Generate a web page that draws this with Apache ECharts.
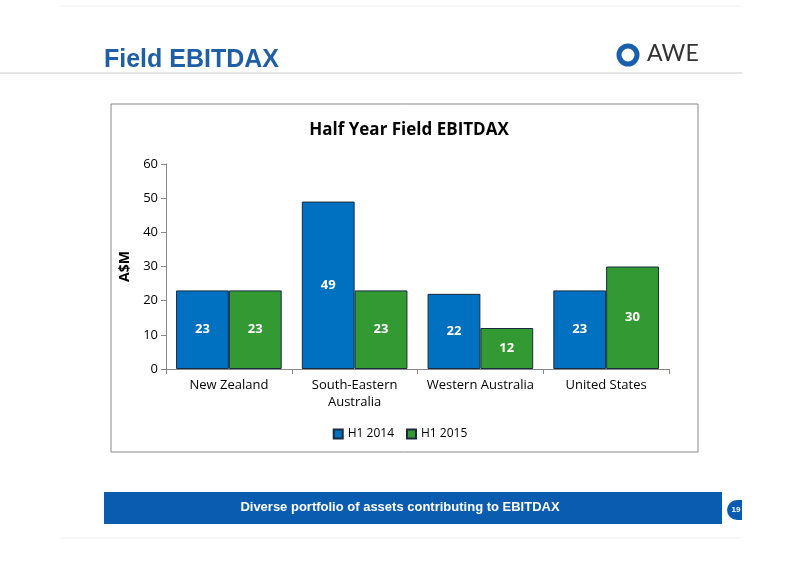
<!DOCTYPE html>
<html><head><meta charset="utf-8">
<script src="https://cdn.jsdelivr.net/npm/echarts@6/dist/echarts.min.js"></script>
<style>html,body{margin:0;padding:0;background:#fff}#c{width:800px;height:565px}</style>
</head><body><div id="c"></div>
<script>
var categories = ['New Zealand', 'South-Eastern\nAustralia', 'Western Australia', 'United States'];
var h12014 = [23, 49, 22, 23];
var h12015 = [23, 23, 12, 30];
var yTicks = [0, 10, 20, 30, 40, 50, 60];
var chart = echarts.init(document.getElementById('c'));
var lbl = {show: true, position: 'inside', color: '#fff', fontSize: 13, fontWeight: 'bold', fontFamily: 'Open Sans'};
chart.setOption({
  animation: false,
  title: {text: 'Half Year Field EBITDAX', left: 404, top: 117, textAlign: 'center',
    textStyle: {fontSize: 17, fontWeight: 'bold', color: '#000', fontFamily: 'Open Sans'}},
  legend: {bottom: 120, left: 'center', itemWidth: 9, itemHeight: 9, itemGap: 12, icon: 'rect',
    textStyle: {fontSize: 12, color: '#000', fontFamily: 'Open Sans'},
    data: ['H1 2014', 'H1 2015']},
  grid: {left: 166, right: 131, top: 164, bottom: 196},
  xAxis: {type: 'category', data: categories,
    axisLine: {lineStyle: {color: '#888'}}, axisTick: {show: true, lineStyle: {color: '#888'}},
    axisLabel: {interval: 0, fontSize: 13, color: '#000', fontFamily: 'Open Sans', lineHeight: 17}},
  yAxis: {type: 'value', min: yTicks[0], max: yTicks[yTicks.length-1], interval: 10,
    name: 'A$M', nameLocation: 'middle', nameGap: 30, nameRotate: 90,
    nameTextStyle: {fontSize: 14, fontWeight: 'bold', color: '#000', fontFamily: 'Open Sans'},
    axisLine: {show: true, lineStyle: {color: '#888'}}, axisTick: {show: true, lineStyle: {color: '#888'}},
    splitLine: {show: false},
    axisLabel: {fontSize: 13, color: '#000', fontFamily: 'Open Sans'}},
  series: [
    {name: 'H1 2014', type: 'bar', data: h12014, barGap: '0%', barCategoryGap: '16%',
     itemStyle: {color: '#0070C0', borderColor: '#1a2a40', borderWidth: 1}, label: lbl},
    {name: 'H1 2015', type: 'bar', data: h12015,
     itemStyle: {color: '#339933', borderColor: '#1a2a40', borderWidth: 1}, label: lbl}
  ],
  graphic: [
    {type: 'line', shape: {x1: 0, y1: 73, x2: 742, y2: 73}, style: {stroke: '#ccc', lineWidth: 1}},
    {type: 'line', shape: {x1: 60, y1: 6, x2: 742, y2: 6}, style: {stroke: '#f0f0f0', lineWidth: 1}},
    {type: 'text', left: 104, top: 48, style: {text: 'Field EBITDAX', fill: '#1f5fa8', font: 'bold 25px Arial, Liberation Sans'}},
    {type: 'text', left: 647, top: 42, style: {text: 'AWE', fill: '#333', font: '23px Lato, Arial'}},
    {type: 'circle', shape: {cx: 628, cy: 55, r: 9}, style: {fill: 'none', stroke: '#1a5fae', lineWidth: 5}},
    {type: 'rect', shape: {x: 111, y: 104, width: 587, height: 348}, style: {fill: 'none', stroke: '#888', lineWidth: 1}},
    {type: 'rect', shape: {x: 104, y: 492, width: 618, height: 32}, style: {fill: '#0a5cb0'}},
    {type: 'text', left: 'center', top: 501, style: {text: 'Diverse portfolio of assets contributing to EBITDAX', fill: '#fff', font: 'bold 13px Arial, Liberation Sans', x: 0}},
    {type: 'sector', shape: {cx: 737, cy: 510, r: 10, startAngle: Math.PI/2, endAngle: Math.PI*1.5, clockwise: true}, style: {fill: '#0a5cb0'}},
    {type: 'rect', shape: {x: 737, y: 500, width: 5, height: 20}, style: {fill: '#0a5cb0'}},
    {type: 'text', x: 736, y: 510, style: {text: '19', fill: '#fff', font: 'bold 8px Arial', align: 'center', verticalAlign: 'middle'}},
    {type: 'line', shape: {x1: 60, y1: 538, x2: 742, y2: 538}, style: {stroke: '#f0f0f0', lineWidth: 1}}
  ]
});
</script></body></html>
